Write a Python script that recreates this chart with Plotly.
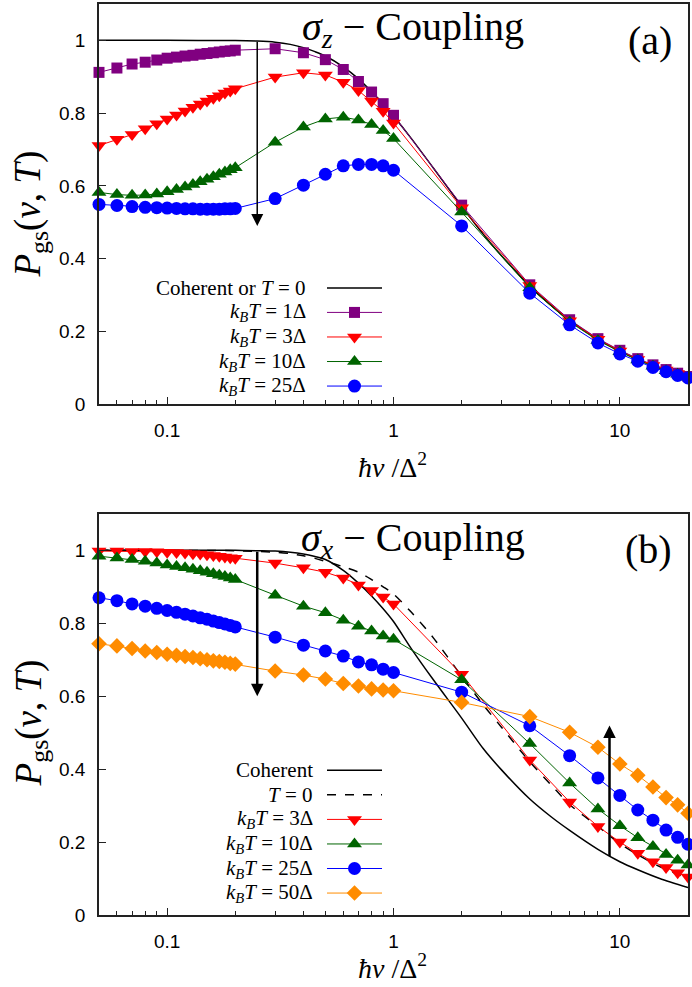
import math
import plotly.graph_objects as go

# ---------------- data ----------------
x_pts = [0.05, 0.06, 0.07, 0.08, 0.09, 0.10, 0.11, 0.12, 0.13, 0.14, 0.15, 0.16,
         0.17, 0.18, 0.19, 0.20, 0.3, 0.4, 0.5, 0.6, 0.7, 0.8, 0.9, 1.0,
         2, 4, 6, 8, 10, 12, 14, 16, 18, 20]

# panel (a): sigma_z coupling
a_kT1 = [0.912, 0.924, 0.935, 0.940, 0.946, 0.951, 0.954, 0.957, 0.959, 0.962, 0.964, 0.966,
         0.968, 0.970, 0.971, 0.973, 0.977, 0.966, 0.947, 0.920, 0.887, 0.858, 0.826, 0.794,
         0.547, 0.328, 0.232, 0.180, 0.148, 0.125, 0.108, 0.095, 0.085, 0.076]
a_kT3 = [0.711, 0.728, 0.741, 0.757, 0.771, 0.784, 0.795, 0.806, 0.816, 0.825, 0.833, 0.841,
         0.848, 0.855, 0.861, 0.867, 0.899, 0.911, 0.905, 0.885, 0.862, 0.833, 0.805, 0.773,
         0.540, 0.326, 0.229, 0.178, 0.146, 0.123, 0.106, 0.094, 0.084, 0.075]
a_kT10 = [0.582, 0.576, 0.574, 0.575, 0.578, 0.584, 0.590, 0.597, 0.604, 0.611, 0.618, 0.625,
          0.632, 0.638, 0.644, 0.650, 0.720, 0.762, 0.784, 0.789, 0.781, 0.769, 0.752, 0.730,
          0.528, 0.320, 0.226, 0.175, 0.144, 0.121, 0.104, 0.092, 0.082, 0.074]
a_kT25 = [0.549, 0.546, 0.543, 0.541, 0.540, 0.539, 0.538, 0.537, 0.537, 0.536, 0.536, 0.536,
          0.536, 0.537, 0.537, 0.538, 0.565, 0.602, 0.632, 0.655, 0.659, 0.659, 0.655, 0.643,
          0.490, 0.305, 0.218, 0.168, 0.138, 0.118, 0.101, 0.089, 0.079, 0.072]

curve_x = [0.05, 0.1, 0.2, 0.25, 0.3, 0.35, 0.4, 0.45, 0.5, 0.6, 0.7, 0.8, 0.9, 1.0,
           1.2, 1.5, 2.0, 2.5, 3.0, 4.0, 5.0, 6.0, 8.0, 10.0, 12.0, 15.0, 20.0]
a_coherent = [1.0, 1.0, 0.9996, 0.998, 0.995, 0.989, 0.980, 0.969, 0.957, 0.927, 0.894, 0.859,
              0.826, 0.792, 0.730, 0.649, 0.544, 0.466, 0.408, 0.325, 0.270, 0.230, 0.178,
              0.146, 0.123, 0.0995, 0.0755]

# panel (b): sigma_x coupling
b_kT3 = [0.998, 0.998, 0.997, 0.997, 0.996, 0.995, 0.994, 0.993, 0.991, 0.990, 0.988, 0.986,
         0.984, 0.982, 0.980, 0.978, 0.965, 0.952, 0.940, 0.924, 0.905, 0.890, 0.872, 0.853,
         0.660, 0.425, 0.310, 0.243, 0.200, 0.169, 0.146, 0.130, 0.116, 0.104]
b_kT10 = [0.984, 0.979, 0.975, 0.970, 0.965, 0.960, 0.956, 0.952, 0.948, 0.944, 0.940, 0.936,
          0.932, 0.928, 0.924, 0.920, 0.877, 0.847, 0.829, 0.808, 0.792, 0.779, 0.765, 0.756,
          0.645, 0.470, 0.362, 0.291, 0.245, 0.212, 0.188, 0.166, 0.150, 0.137]
b_kT25 = [0.870, 0.862, 0.853, 0.847, 0.841, 0.835, 0.830, 0.825, 0.820, 0.815, 0.811, 0.806,
          0.802, 0.798, 0.794, 0.790, 0.762, 0.740, 0.724, 0.710, 0.694, 0.686, 0.674, 0.665,
          0.611, 0.519, 0.437, 0.376, 0.328, 0.288, 0.260, 0.233, 0.213, 0.194]
b_kT50 = [0.744, 0.738, 0.731, 0.724, 0.720, 0.715, 0.712, 0.709, 0.706, 0.703, 0.700, 0.697,
          0.695, 0.693, 0.690, 0.688, 0.669, 0.658, 0.647, 0.635, 0.628, 0.620, 0.617, 0.615,
          0.583, 0.544, 0.501, 0.460, 0.414, 0.383, 0.351, 0.322, 0.302, 0.279]
b_coherent = [1.0, 1.0, 1.0, 0.999, 0.998, 0.995, 0.990, 0.983, 0.975, 0.945, 0.910, 0.875,
              0.840, 0.805, 0.730, 0.645, 0.540, 0.455, 0.398, 0.318, 0.268, 0.232, 0.180,
              0.146, 0.124, 0.100, 0.075]
b_T0 = [1.0, 1.0, 0.999, 0.997, 0.995, 0.991, 0.985, 0.978, 0.970, 0.955, 0.940, 0.920,
        0.900, 0.880, 0.830, 0.760, 0.655, 0.575, 0.515, 0.420, 0.355, 0.303, 0.243,
        0.196, 0.165, 0.133, 0.100]

x_tickvals = [0.1, 1, 10]
x_ticktext = ["0.1", "1", "10"]
x_minor = [0.06, 0.07, 0.08, 0.09, 0.2, 0.3, 0.4, 0.5, 0.6, 0.7, 0.8, 0.9,
           2, 3, 4, 5, 6, 7, 8, 9, 20]
y_tickvals = [0, 0.2, 0.4, 0.6, 0.8, 1.0]
y_ticktext = ["0", "0.2", "0.4", "0.6", "0.8", "1"]

# ---------------- styling ----------------
W, H = 692, 987
L, R, T, B = 99, 688, 2, 915      # frame of both panels in px
A_BOT, B_TOP = 403, 513
PW, PH = R - L, B - T

def px(x):
    return (x - L) / PW

def py(y):
    return (B - y) / PH

SERIF = "Liberation Serif"
SANS = "Liberation Sans"
PURPLE, RED, GREEN, BLUE, ORANGE = "#800080", "#ff0000", "#006400", "#0000ff", "#ff8c00"

fig = go.Figure()

def series(x, y, color, symbol, size, xa, ya):
    fig.add_trace(go.Scatter(x=x, y=y, mode="lines+markers", xaxis=xa, yaxis=ya,
                             line=dict(color=color, width=1),
                             marker=dict(color=color, symbol=symbol, size=size, opacity=1),
                             cliponaxis=False, showlegend=False))

def curve(x, y, dash, xa, ya):
    fig.add_trace(go.Scatter(x=x, y=y, mode="lines", xaxis=xa, yaxis=ya,
                             line=dict(color="black", width=1.5, dash=dash, shape="spline",
                                       smoothing=0.8),
                             showlegend=False))

# panel (a)
curve(curve_x, a_coherent, "solid", "x", "y")
series(x_pts, a_kT1, PURPLE, "square", 11, "x", "y")
series(x_pts, a_kT3, RED, "triangle-down", 13, "x", "y")
series(x_pts, a_kT10, GREEN, "triangle-up", 13, "x", "y")
series(x_pts, a_kT25, BLUE, "circle", 13, "x", "y")

# panel (b)
curve(curve_x, b_coherent, "solid", "x2", "y2")
curve(curve_x, b_T0, "dash", "x2", "y2")
series(x_pts, b_kT3, RED, "triangle-down", 13, "x2", "y2")
series(x_pts, b_kT10, GREEN, "triangle-up", 13, "x2", "y2")
series(x_pts, b_kT25, BLUE, "circle", 13, "x2", "y2")
series(x_pts, b_kT50, ORANGE, "diamond", 12, "x2", "y2")

# ---------------- manual legends (pixel overlay axis) ----------------
LEG_X0, LEG_X1 = 327, 382
LEG_MID = (LEG_X0 + LEG_X1) / 2

def leg_sample(yrow, color, symbol=None, size=0, dash="solid", width=1):
    fig.add_trace(go.Scatter(x=[LEG_X0, LEG_X1], y=[yrow] * 2, mode="lines",
                             xaxis="x3", yaxis="y3", line=dict(color=color, width=width, dash=dash),
                             showlegend=False, hoverinfo="skip"))
    if symbol:
        fig.add_trace(go.Scatter(x=[LEG_MID], y=[yrow], mode="markers",
                                 xaxis="x3", yaxis="y3",
                                 marker=dict(color=color, symbol=symbol, size=size, opacity=1),
                                 showlegend=False, hoverinfo="skip"))

annotations = []

def text(x, y, s, size, xanchor="center", yanchor="middle", family=SERIF, angle=0):
    annotations.append(dict(x=px(x), y=py(y), xref="paper", yref="paper", text=s,
                            showarrow=False, xanchor=xanchor, yanchor=yanchor,
                            textangle=angle, font=dict(family=family, size=size, color="black")))

kbt = "<i>k</i><sub><i>B</i></sub><i>T</i> = "
leg_a = [("Coherent or <i>T</i> = 0", "black", None, 0),
         (kbt + "1Δ", PURPLE, "square", 11),
         (kbt + "3Δ", RED, "triangle-down", 13),
         (kbt + "10Δ", GREEN, "triangle-up", 13),
         (kbt + "25Δ", BLUE, "circle", 13)]
rows_a = [286.5, 311.1, 335.7, 360.3, 384.9]
for (lab, col, sym, sz), yr in zip(leg_a, rows_a):
    text(308, yr, lab, 21, xanchor="right")
    leg_sample(yr, col, sym, sz, width=1.5 if sym is None else 1)

leg_b = [("Coherent", "black", None, 0, "solid"),
         ("<i>T</i> = 0", "black", None, 0, "dash"),
         (kbt + "3Δ", RED, "triangle-down", 13, "solid"),
         (kbt + "10Δ", GREEN, "triangle-up", 13, "solid"),
         (kbt + "25Δ", BLUE, "circle", 13, "solid"),
         (kbt + "50Δ", ORANGE, "diamond", 12, "solid")]
rows_b = [770, 794.6, 819.2, 843.8, 868.4, 893]
for (lab, col, sym, sz, dash), yr in zip(leg_b, rows_b):
    text(315, yr, lab, 21, xanchor="right")
    leg_sample(yr, col, sym, sz, dash=dash, width=1.5 if sym is None else 1)

# titles and labels
text(413, 27, "<i>σ</i><sub><i>z</i></sub> − Coupling", 40)
text(413, 539, "<i>σ</i><sub><i>x</i></sub> − Coupling", 40)
text(674, 39, "(a)", 40, xanchor="right")
text(674, 549, "(b)", 40, xanchor="right")
ytitle = "<i>P</i><sub>gs</sub>(<i>v</i>, <i>T</i>)"
text(31, 213, ytitle, 37, angle=-90)
text(31, 723, ytitle, 37, angle=-90)
xtitle = "<i>ħv</i> /Δ<sup>2</sup>"
text(392, 465, xtitle, 28)
text(392, 967, xtitle, 28)

# arrows
annotations.append(dict(x=math.log10(0.25), y=0.49, ax=math.log10(0.25), ay=1.0,
                        xref="x", yref="y", axref="x", ayref="y", text="", showarrow=True,
                        arrowhead=2, arrowsize=1.6, arrowwidth=1.5, arrowcolor="black"))
annotations.append(dict(x=math.log10(0.25), y=0.60, ax=math.log10(0.25), ay=1.0,
                        xref="x2", yref="y2", axref="x2", ayref="y2", text="", showarrow=True,
                        arrowhead=2, arrowsize=1.0, arrowwidth=2.5, arrowcolor="black"))
annotations.append(dict(x=math.log10(9.0), y=0.52, ax=math.log10(9.0), ay=0.158,
                        xref="x2", yref="y2", axref="x2", ayref="y2", text="", showarrow=True,
                        arrowhead=2, arrowsize=1.0, arrowwidth=2.5, arrowcolor="black"))

# ---------------- axes ----------------
xaxis_style = dict(type="log", range=[math.log10(0.05), math.log10(20)],
                   showline=True, linecolor="#222", linewidth=1.5, mirror=True,
                   ticks="inside", ticklen=7, tickwidth=1.2, tickcolor="#222",
                   tickmode="array", tickvals=x_tickvals, ticktext=x_ticktext,
                   tickfont=dict(family=SANS, size=19, color="black"),
                   ticklabelstandoff=8,
                   showgrid=False, zeroline=False,
                   minor=dict(ticks="inside", ticklen=4, tickwidth=1, tickcolor="#222",
                              tickmode="array", tickvals=x_minor, showgrid=False))
yaxis_style = dict(range=[0, 1.1], showline=True, linecolor="#222", linewidth=1.5, mirror=True,
                   ticks="inside", ticklen=7, tickwidth=1.2, tickcolor="#222",
                   tickmode="array", tickvals=y_tickvals, ticktext=y_ticktext,
                   tickfont=dict(family=SANS, size=19, color="black"),
                   ticklabelstandoff=8,
                   showgrid=False, zeroline=False)

dom_a = [py(A_BOT), 1.0]
dom_b = [0.0, py(B_TOP)]

fig.update_layout(
    width=W, height=H,
    margin=dict(l=L, r=W - R, t=T, b=H - B, pad=0),
    paper_bgcolor="white", plot_bgcolor="rgba(0,0,0,0)",
    showlegend=False,
    xaxis=dict(xaxis_style, anchor="y", domain=[0, 1]),
    yaxis=dict(yaxis_style, anchor="x", domain=dom_a),
    xaxis2=dict(xaxis_style, anchor="y2", domain=[0, 1]),
    yaxis2=dict(yaxis_style, anchor="x2", domain=dom_b),
    xaxis3=dict(range=[L, R], domain=[0, 1], anchor="y3", visible=False, fixedrange=True),
    yaxis3=dict(range=[B, T], domain=[0, 1], anchor="x3", visible=False, fixedrange=True),
    annotations=annotations,
)

fig.write_html("out.html")
